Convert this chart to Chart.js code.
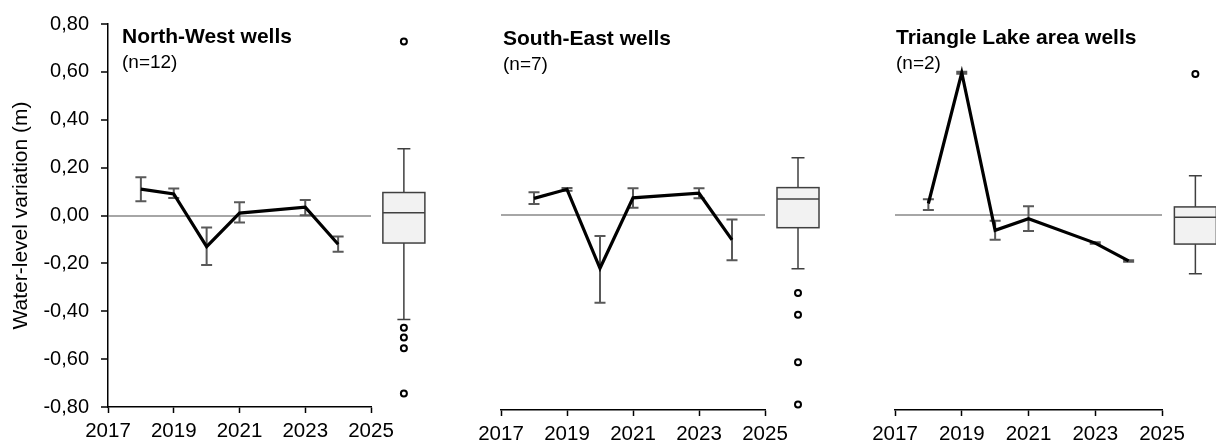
<!DOCTYPE html>
<html>
<head>
<meta charset="utf-8">
<script src="https://cdn.jsdelivr.net/npm/chart.js@4.4.1/dist/chart.umd.min.js"></script>
<style>
  html, body { margin: 0; padding: 0; background: #fff; }
  #wrap { position: relative; width: 1216px; height: 444px; overflow: hidden; }
  canvas { position: absolute; top: 0; }
</style>
</head>
<body>
<div id="wrap">
  <canvas id="nw-chart" width="440" height="444" style="left:0"></canvas>
  <canvas id="se-chart" width="385" height="444" style="left:440px"></canvas>
  <canvas id="tl-chart" width="386" height="444" style="left:830px"></canvas>
</div>
<script>
// axis ticks
const xTicks = [2017, 2019, 2021, 2023, 2025];
const yTicks = [-0.8, -0.6, -0.4, -0.2, 0, 0.2, 0.4, 0.6, 0.8];
const years = [2018, 2019, 2020, 2021, 2023, 2024];
const boxYear = 2026; // boxplot sits just right of the time axis

// North-West wells (n=12)
const nwMean = [0.11, 0.09, -0.13, 0.01, 0.035, -0.12];
const nwLow = [0.06, 0.073, -0.207, -0.029, 0.001, -0.151];
const nwHigh = [0.16, 0.113, -0.05, 0.055, 0.065, -0.088];
const nwBox = [-0.434, -0.115, 0.011, 0.096, 0.279]; // whisker lo, q1, median, q3, whisker hi
const nwOutliers = [0.727, -0.469, -0.51, -0.555, -0.744];

// South-East wells (n=7)
const seMean = [0.066, 0.103, -0.22, 0.068, 0.087, -0.104];
const seLow = [0.043, 0.097, -0.361, 0.028, 0.066, -0.187];
const seHigh = [0.091, 0.108, -0.088, 0.107, 0.107, -0.02];
const seBox = [-0.222, -0.054, 0.063, 0.11, 0.232];
const seOutliers = [-0.321, -0.41, -0.605, -0.777];

// Triangle Lake area wells (n=2)
const tlMean = [0.045, 0.58, -0.065, -0.017, -0.117, -0.19];
const tlLow = [0.018, 0.576, -0.103, -0.068, -0.12, -0.193];
const tlHigh = [0.062, 0.584, -0.026, 0.034, -0.114, -0.187];
const tlBox = [-0.242, -0.121, -0.011, 0.031, 0.159];
const tlOutliers = [0.575];

Chart.defaults.font.family = "'Liberation Sans', Arial, sans-serif";
Chart.defaults.color = '#000';
Chart.defaults.animation = false;

// error bars, boxplot and panel heading, drawn through the chart scales
function panelPlugin(p) {
  return {
    id: 'panelDecor',
    beforeDatasetsDraw(chart) {
      const { ctx, scales: { x, y } } = chart;
      ctx.save();
      ctx.strokeStyle = '#595959';
      ctx.lineWidth = 2;
      years.forEach((yr, i) => {
        const px = x.getPixelForValue(yr);
        const top = y.getPixelForValue(p.high[i]);
        const bot = y.getPixelForValue(p.low[i]);
        ctx.beginPath();
        ctx.moveTo(px, top); ctx.lineTo(px, bot);
        ctx.moveTo(px - 5.5, top); ctx.lineTo(px + 5.5, top);
        ctx.moveTo(px - 5.5, bot); ctx.lineTo(px + 5.5, bot);
        ctx.stroke();
      });
      ctx.restore();
    },
    afterDatasetsDraw(chart) {
      const { ctx, scales: { x, y } } = chart;
      const cx = x.getPixelForValue(boxYear);
      const [lo, q1, med, q3, hi] = p.box.map(v => y.getPixelForValue(v));
      ctx.save();
      ctx.strokeStyle = '#404040';
      ctx.lineWidth = 1.5;
      // whiskers
      ctx.beginPath();
      ctx.moveTo(cx, hi); ctx.lineTo(cx, q3);
      ctx.moveTo(cx, q1); ctx.lineTo(cx, lo);
      ctx.moveTo(cx - 6.5, hi); ctx.lineTo(cx + 6.5, hi);
      ctx.moveTo(cx - 6.5, lo); ctx.lineTo(cx + 6.5, lo);
      ctx.stroke();
      // box
      ctx.fillStyle = '#f2f2f2';
      ctx.fillRect(cx - 21, q3, 42, q1 - q3);
      ctx.strokeRect(cx - 21, q3, 42, q1 - q3);
      ctx.beginPath();
      ctx.moveTo(cx - 21, med); ctx.lineTo(cx + 21, med);
      ctx.stroke();
      // outliers
      ctx.strokeStyle = '#000';
      ctx.lineWidth = 2;
      ctx.fillStyle = '#fff';
      p.outliers.forEach(v => {
        ctx.beginPath();
        ctx.arc(cx, y.getPixelForValue(v), 3, 0, Math.PI * 2);
        ctx.fill();
        ctx.stroke();
      });
      // heading
      ctx.fillStyle = '#000';
      ctx.textBaseline = 'alphabetic';
      ctx.font = "bold 21px 'Liberation Sans', Arial, sans-serif";
      ctx.fillText(p.title, p.titleX, p.titleY);
      ctx.font = "19px 'Liberation Sans', Arial, sans-serif";
      ctx.fillText(p.count, p.titleX, p.titleY + 25);
      ctx.restore();
    }
  };
}

function makePanel(id, p) {
  new Chart(document.getElementById(id), {
    type: 'line',
    data: {
      datasets: [{
        data: years.map((yr, i) => ({ x: yr, y: p.mean[i] })),
        borderColor: '#000',
        borderWidth: 3.2,
        pointRadius: 0,
        tension: 0,
        fill: false
      }]
    },
    options: {
      responsive: false,
      layout: { padding: { left: p.padLeft, right: p.padRight, top: 19, bottom: 0 } },
      plugins: { legend: { display: false }, tooltip: { enabled: false } },
      scales: {
        x: {
          type: 'linear',
          min: 2017,
          max: 2025,
          afterBuildTicks: s => { s.ticks = xTicks.map(v => ({ value: v })); },
          afterFit: s => { s.height = p.xHeight; },
          border: { color: '#000', width: 1.5 },
          grid: { drawOnChartArea: false, tickLength: 6, tickColor: '#000', tickWidth: 1.5 },
          ticks: { font: { size: 20.5 }, padding: 6, maxRotation: 0, callback: v => String(v) }
        },
        y: {
          min: -0.8,
          max: 0.8,
          afterBuildTicks: s => { s.ticks = yTicks.map(v => ({ value: v })); },
          afterFit: s => { s.width = p.showY ? 108 : 0; },
          border: { display: p.showY, color: '#000', width: 1.5 },
          grid: {
            color: c => (c.tick && c.tick.value === 0 ? '#a6a6a6' : 'rgba(0,0,0,0)'),
            lineWidth: 2,
            drawTicks: p.showY,
            tickLength: 7,
            tickColor: '#000',
            tickWidth: 1.5
          },
          ticks: {
            display: p.showY,
            font: { size: 20 },
            padding: 12,
            callback: v => v.toFixed(2).replace('.', ',')
          },
          title: {
            display: p.showY,
            text: 'Water-level variation (m)',
            font: { size: 21 },
            padding: { top: 9, bottom: 0 }
          }
        }
      }
    },
    plugins: [panelPlugin(p)]
  });
}

makePanel('nw-chart', {
  title: 'North-West wells', count: '(n=12)',
  mean: nwMean, low: nwLow, high: nwHigh, box: nwBox, outliers: nwOutliers,
  showY: true, padLeft: 0, padRight: 69, xHeight: 37, titleX: 122, titleY: 43
});
makePanel('se-chart', {
  title: 'South-East wells', count: '(n=7)',
  mean: seMean, low: seLow, high: seHigh, box: seBox, outliers: seOutliers,
  showY: false, padLeft: 61, padRight: 60, xHeight: 34, titleX: 63, titleY: 45
});
makePanel('tl-chart', {
  title: 'Triangle Lake area wells', count: '(n=2)',
  mean: tlMean, low: tlLow, high: tlHigh, box: tlBox, outliers: tlOutliers,
  showY: false, padLeft: 65, padRight: 54, xHeight: 34, titleX: 66, titleY: 44
});
</script>
</body>
</html>
